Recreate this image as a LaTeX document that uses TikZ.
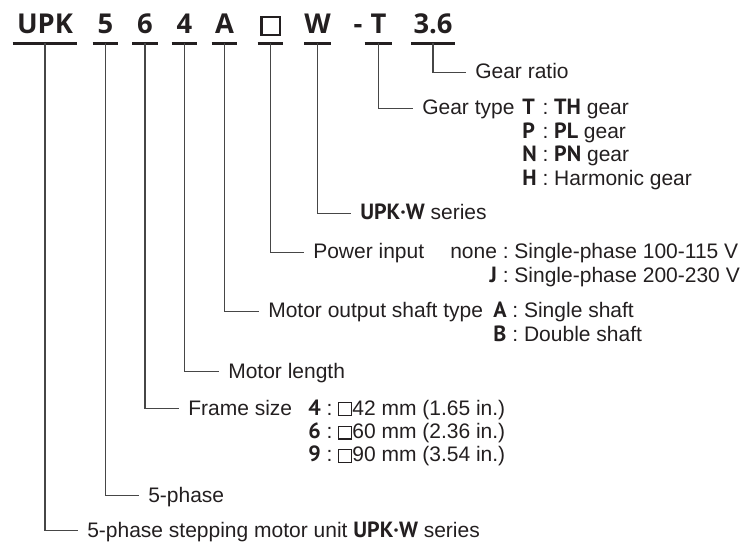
\documentclass[tikz,border=0pt]{standalone}
\usepackage{fontspec}
\setmainfont{Liberation Sans}
\newfontfamily\codefont{Open Sans}
\newfontfamily\keyfont{PT Sans}
\usepackage{tikz}
\usetikzlibrary{positioning}
\definecolor{CodeInk}{RGB}{35,31,32}
\definecolor{LeaderGray}{RGB}{70,70,70}
% square outline: #1 rule, #2 inner size
\newcommand{\sqmark}[2]{{\setlength\fboxsep{0pt}\setlength\fboxrule{#1}\fbox{\rule{0pt}{#2}\rule{#2}{0pt}}}}
\newcommand{\kw}[1]{{\keyfont\bfseries\fontsize{16.5pt}{17.6pt}\selectfont #1}}
\tikzset{
  codechar/.style={font=\codefont\bfseries\fontsize{20.5pt}{22pt}\selectfont,
    text=CodeInk, anchor=base, inner xsep=0pt, inner ysep=6.75pt,
    text depth=0pt, minimum width=#1},
  codechar/.default=18.75pt,
  uline/.style={draw=CodeInk, line width=2pt},
  leader/.style={draw=LeaderGray, line width=0.8pt},
  lbl/.style={font=\fontsize{15.75pt}{17.6pt}\selectfont, text=CodeInk,
    anchor=base west, inner sep=0pt}
}
\begin{document}
\begin{tikzpicture}[x=0.75pt, y=-0.75pt]
  \useasboundingbox (0,0) rectangle (746,545);
  % model code
  \node[codechar=48pt] (cUPK) at (45,34) {UPK};
  \node[codechar] (c5) at (105.5,34) {5};
  \node[codechar] (c6) at (145,34) {6};
  \node[codechar] (c4) at (184.5,34) {4};
  \node[codechar] (cA) at (224.5,34) {A};
  \node[codechar] (cBox) at (270.5,34) {\sqmark{1.8pt}{12pt}};
  \node[codechar] (cW) at (317.5,34) {W};
  \node[codechar, minimum width=0pt] (cDash) at (358,34) {-};
  \node[codechar=20.25pt] (cT) at (378.5,34) {T};
  \node[codechar=32.25pt] (cRatio) at (433,34) {3.6};
  \foreach \c in {cUPK,c5,c6,c4,cA,cBox,cW,cT,cRatio}
    \draw[uline] (\c.south west) -- (\c.south east);

  % explanations
  \node[lbl] (ratio) at (475,79) {Gear ratio};
  \node[lbl] (gtype) at (422,115) {Gear type};
  \node[lbl] (gopts) at (522,115) {\begin{tabular}[t]{@{}l@{\ :\ }l@{}}
      \kw{T} & \kw{TH} gear\\
      \kw{P} & \kw{PL} gear\\
      \kw{N} & \kw{PN} gear\\
      \kw{H} & Harmonic gear
    \end{tabular}};
  \node[lbl] (series) at (360,220) {\kw{UPK·W} series};
  \node[lbl] (power) at (313,259) {Power input};
  \node[lbl] (popts) at (450,259) {\begin{tabular}[t]{@{}r@{\ :\ }l@{}}
      none & Single-phase 100-115 V\\
      \kw{J} & Single-phase 200-230 V
    \end{tabular}};
  \node[lbl] (shaft) at (268,318) {Motor output shaft type};
  \node[lbl] (sopts) at (493,318) {\begin{tabular}[t]{@{}l@{\ :\ }l@{}}
      \kw{A} & Single shaft\\
      \kw{B} & Double shaft
    \end{tabular}};
  \node[lbl] (length) at (228,378) {Motor length};
  \node[lbl] (frame) at (188,415) {Frame size};
  \node[lbl] (fopts) at (308,415) {\begin{tabular}[t]{@{}l@{\ :\ }l@{}}
      \kw{4} & \sqmark{0.9pt}{8.8pt}42 mm (1.65 in.)\\
      \kw{6} & \sqmark{0.9pt}{8.8pt}60 mm (2.36 in.)\\
      \kw{9} & \sqmark{0.9pt}{8.8pt}90 mm (3.54 in.)
    \end{tabular}};
  \node[lbl] (phase) at (148,502) {5-phase};
  \node[lbl] (unit) at (87,537) {5-phase stepping motor unit \kw{UPK·W} series};

  % leaders
  \foreach \c/\l in {cRatio/ratio, cT/gtype, cW/series, cBox/power, cA/shaft,
                     c4/length, c6/frame, c5/phase, cUPK/unit}
    \draw[leader] (\c.south) |- ([shift={(-6.75pt,5pt)}]\l.base west);
\end{tikzpicture}
\end{document}
